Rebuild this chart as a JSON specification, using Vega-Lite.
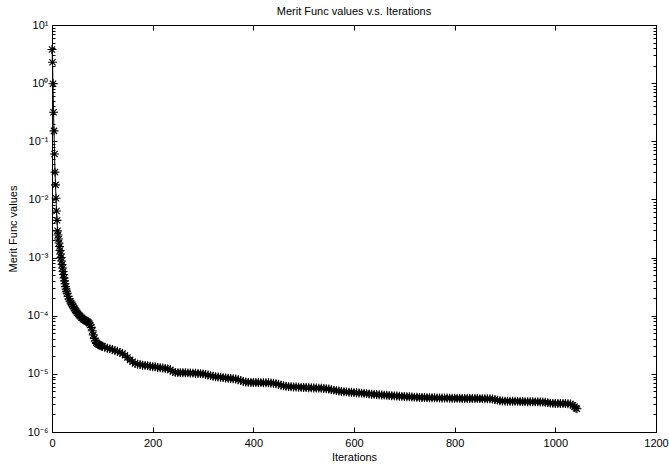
{
  "$schema": "https://vega.github.io/schema/vega-lite/v6.json",
  "width": 604,
  "height": 407,
  "autosize": {"type": "none"},
  "padding": {"left": 52, "top": 25, "right": 13, "bottom": 32},
  "background": "white",
  "title": {"text": "Merit Func values v.s. Iterations", "font": "Liberation Sans", "fontSize": 11, "fontWeight": "normal", "color": "black", "offset": 2},
  "data": {"values": [
    {"iteration": 0, "value": 3.8},
    {"iteration": 1, "value": 2.29},
    {"iteration": 2, "value": 0.977},
    {"iteration": 3, "value": 0.316},
    {"iteration": 4, "value": 0.151},
    {"iteration": 5, "value": 0.0603},
    {"iteration": 6, "value": 0.0295},
    {"iteration": 7, "value": 0.0178},
    {"iteration": 8, "value": 0.0105},
    {"iteration": 9, "value": 0.00631},
    {"iteration": 10, "value": 0.00437},
    {"iteration": 11, "value": 0.00288},
    {"iteration": 12, "value": 0.00245},
    {"iteration": 13, "value": 0.00209},
    {"iteration": 14, "value": 0.00178},
    {"iteration": 15, "value": 0.00155},
    {"iteration": 16, "value": 0.00132},
    {"iteration": 17, "value": 0.00115},
    {"iteration": 18, "value": 0.001},
    {"iteration": 19, "value": 8.71e-4},
    {"iteration": 20, "value": 7.59e-4},
    {"iteration": 21, "value": 6.61e-4},
    {"iteration": 22, "value": 5.75e-4},
    {"iteration": 23, "value": 5.13e-4},
    {"iteration": 24, "value": 4.47e-4},
    {"iteration": 25, "value": 3.98e-4},
    {"iteration": 26, "value": 3.55e-4},
    {"iteration": 27, "value": 3.16e-4},
    {"iteration": 28, "value": 2.88e-4},
    {"iteration": 29, "value": 2.63e-4},
    {"iteration": 30, "value": 2.45e-4},
    {"iteration": 32, "value": 2.14e-4},
    {"iteration": 34, "value": 1.95e-4},
    {"iteration": 36, "value": 1.78e-4},
    {"iteration": 38, "value": 1.66e-4},
    {"iteration": 40, "value": 1.55e-4},
    {"iteration": 42, "value": 1.45e-4},
    {"iteration": 44, "value": 1.35e-4},
    {"iteration": 46, "value": 1.26e-4},
    {"iteration": 48, "value": 1.2e-4},
    {"iteration": 50, "value": 1.12e-4},
    {"iteration": 52, "value": 1.07e-4},
    {"iteration": 54, "value": 1.02e-4},
    {"iteration": 56, "value": 9.77e-5},
    {"iteration": 58, "value": 9.33e-5},
    {"iteration": 60, "value": 9.12e-5},
    {"iteration": 62, "value": 8.71e-5},
    {"iteration": 64, "value": 8.51e-5},
    {"iteration": 66, "value": 8.32e-5},
    {"iteration": 68, "value": 8.13e-5},
    {"iteration": 70, "value": 7.94e-5},
    {"iteration": 72, "value": 7.76e-5},
    {"iteration": 74, "value": 7.41e-5},
    {"iteration": 76, "value": 6.92e-5},
    {"iteration": 78, "value": 6.31e-5},
    {"iteration": 80, "value": 5.5e-5},
    {"iteration": 82, "value": 4.68e-5},
    {"iteration": 84, "value": 4.07e-5},
    {"iteration": 86, "value": 3.72e-5},
    {"iteration": 88, "value": 3.47e-5},
    {"iteration": 90, "value": 3.31e-5},
    {"iteration": 92, "value": 3.24e-5},
    {"iteration": 94, "value": 3.16e-5},
    {"iteration": 96, "value": 3.09e-5},
    {"iteration": 98, "value": 3.02e-5},
    {"iteration": 100, "value": 2.95e-5},
    {"iteration": 105, "value": 2.88e-5},
    {"iteration": 110, "value": 2.75e-5},
    {"iteration": 115, "value": 2.69e-5},
    {"iteration": 120, "value": 2.63e-5},
    {"iteration": 125, "value": 2.51e-5},
    {"iteration": 130, "value": 2.45e-5},
    {"iteration": 135, "value": 2.34e-5},
    {"iteration": 140, "value": 2.24e-5},
    {"iteration": 145, "value": 2.09e-5},
    {"iteration": 150, "value": 1.91e-5},
    {"iteration": 155, "value": 1.74e-5},
    {"iteration": 160, "value": 1.62e-5},
    {"iteration": 165, "value": 1.51e-5},
    {"iteration": 170, "value": 1.46e-5},
    {"iteration": 175, "value": 1.45e-5},
    {"iteration": 180, "value": 1.41e-5},
    {"iteration": 185, "value": 1.4e-5},
    {"iteration": 190, "value": 1.38e-5},
    {"iteration": 195, "value": 1.35e-5},
    {"iteration": 200, "value": 1.33e-5},
    {"iteration": 205, "value": 1.32e-5},
    {"iteration": 210, "value": 1.29e-5},
    {"iteration": 215, "value": 1.27e-5},
    {"iteration": 220, "value": 1.26e-5},
    {"iteration": 225, "value": 1.24e-5},
    {"iteration": 230, "value": 1.23e-5},
    {"iteration": 235, "value": 1.17e-5},
    {"iteration": 240, "value": 1.1e-5},
    {"iteration": 245, "value": 1.06e-5},
    {"iteration": 250, "value": 1.05e-5},
    {"iteration": 255, "value": 1.05e-5},
    {"iteration": 260, "value": 1.045e-5},
    {"iteration": 265, "value": 1.042e-5},
    {"iteration": 270, "value": 1.04e-5},
    {"iteration": 275, "value": 1.035e-5},
    {"iteration": 280, "value": 1.03e-5},
    {"iteration": 285, "value": 1.023e-5},
    {"iteration": 290, "value": 1.016e-5},
    {"iteration": 295, "value": 1.01e-5},
    {"iteration": 300, "value": 1.0e-5},
    {"iteration": 305, "value": 9.77e-6},
    {"iteration": 310, "value": 9.55e-6},
    {"iteration": 315, "value": 9.33e-6},
    {"iteration": 320, "value": 9.12e-6},
    {"iteration": 325, "value": 8.91e-6},
    {"iteration": 330, "value": 8.81e-6},
    {"iteration": 335, "value": 8.71e-6},
    {"iteration": 340, "value": 8.61e-6},
    {"iteration": 345, "value": 8.51e-6},
    {"iteration": 350, "value": 8.41e-6},
    {"iteration": 355, "value": 8.32e-6},
    {"iteration": 360, "value": 8.22e-6},
    {"iteration": 365, "value": 8.13e-6},
    {"iteration": 370, "value": 7.94e-6},
    {"iteration": 375, "value": 7.67e-6},
    {"iteration": 380, "value": 7.41e-6},
    {"iteration": 385, "value": 7.24e-6},
    {"iteration": 390, "value": 7.14e-6},
    {"iteration": 395, "value": 7.11e-6},
    {"iteration": 400, "value": 7.1e-6},
    {"iteration": 405, "value": 7.08e-6},
    {"iteration": 410, "value": 7.08e-6},
    {"iteration": 415, "value": 7.06e-6},
    {"iteration": 420, "value": 7.05e-6},
    {"iteration": 425, "value": 7.03e-6},
    {"iteration": 430, "value": 7.01e-6},
    {"iteration": 435, "value": 6.98e-6},
    {"iteration": 440, "value": 6.92e-6},
    {"iteration": 445, "value": 6.76e-6},
    {"iteration": 450, "value": 6.61e-6},
    {"iteration": 455, "value": 6.38e-6},
    {"iteration": 460, "value": 6.24e-6},
    {"iteration": 465, "value": 6.1e-6},
    {"iteration": 470, "value": 6.03e-6},
    {"iteration": 475, "value": 5.98e-6},
    {"iteration": 480, "value": 5.94e-6},
    {"iteration": 485, "value": 5.92e-6},
    {"iteration": 490, "value": 5.89e-6},
    {"iteration": 495, "value": 5.86e-6},
    {"iteration": 500, "value": 5.83e-6},
    {"iteration": 505, "value": 5.81e-6},
    {"iteration": 510, "value": 5.78e-6},
    {"iteration": 515, "value": 5.75e-6},
    {"iteration": 520, "value": 5.73e-6},
    {"iteration": 525, "value": 5.7e-6},
    {"iteration": 530, "value": 5.68e-6},
    {"iteration": 535, "value": 5.65e-6},
    {"iteration": 540, "value": 5.62e-6},
    {"iteration": 545, "value": 5.56e-6},
    {"iteration": 550, "value": 5.47e-6},
    {"iteration": 555, "value": 5.35e-6},
    {"iteration": 560, "value": 5.25e-6},
    {"iteration": 565, "value": 5.15e-6},
    {"iteration": 570, "value": 5.07e-6},
    {"iteration": 575, "value": 4.99e-6},
    {"iteration": 580, "value": 4.93e-6},
    {"iteration": 585, "value": 4.9e-6},
    {"iteration": 590, "value": 4.84e-6},
    {"iteration": 595, "value": 4.81e-6},
    {"iteration": 600, "value": 4.76e-6},
    {"iteration": 605, "value": 4.73e-6},
    {"iteration": 610, "value": 4.7e-6},
    {"iteration": 615, "value": 4.66e-6},
    {"iteration": 620, "value": 4.62e-6},
    {"iteration": 625, "value": 4.57e-6},
    {"iteration": 630, "value": 4.52e-6},
    {"iteration": 635, "value": 4.47e-6},
    {"iteration": 640, "value": 4.44e-6},
    {"iteration": 645, "value": 4.41e-6},
    {"iteration": 650, "value": 4.37e-6},
    {"iteration": 655, "value": 4.34e-6},
    {"iteration": 660, "value": 4.31e-6},
    {"iteration": 665, "value": 4.27e-6},
    {"iteration": 670, "value": 4.24e-6},
    {"iteration": 675, "value": 4.21e-6},
    {"iteration": 680, "value": 4.18e-6},
    {"iteration": 685, "value": 4.16e-6},
    {"iteration": 690, "value": 4.13e-6},
    {"iteration": 695, "value": 4.1e-6},
    {"iteration": 700, "value": 4.07e-6},
    {"iteration": 705, "value": 4.05e-6},
    {"iteration": 710, "value": 4.03e-6},
    {"iteration": 715, "value": 4.0e-6},
    {"iteration": 720, "value": 3.98e-6},
    {"iteration": 725, "value": 3.96e-6},
    {"iteration": 730, "value": 3.94e-6},
    {"iteration": 735, "value": 3.93e-6},
    {"iteration": 740, "value": 3.92e-6},
    {"iteration": 745, "value": 3.9e-6},
    {"iteration": 750, "value": 3.89e-6},
    {"iteration": 755, "value": 3.88e-6},
    {"iteration": 760, "value": 3.87e-6},
    {"iteration": 765, "value": 3.86e-6},
    {"iteration": 770, "value": 3.85e-6},
    {"iteration": 775, "value": 3.846e-6},
    {"iteration": 780, "value": 3.84e-6},
    {"iteration": 785, "value": 3.83e-6},
    {"iteration": 790, "value": 3.82e-6},
    {"iteration": 795, "value": 3.81e-6},
    {"iteration": 800, "value": 3.8e-6},
    {"iteration": 805, "value": 3.79e-6},
    {"iteration": 810, "value": 3.79e-6},
    {"iteration": 815, "value": 3.78e-6},
    {"iteration": 820, "value": 3.78e-6},
    {"iteration": 825, "value": 3.77e-6},
    {"iteration": 830, "value": 3.77e-6},
    {"iteration": 835, "value": 3.76e-6},
    {"iteration": 840, "value": 3.76e-6},
    {"iteration": 845, "value": 3.758e-6},
    {"iteration": 850, "value": 3.75e-6},
    {"iteration": 855, "value": 3.748e-6},
    {"iteration": 860, "value": 3.74e-6},
    {"iteration": 865, "value": 3.73e-6},
    {"iteration": 870, "value": 3.72e-6},
    {"iteration": 875, "value": 3.7e-6},
    {"iteration": 880, "value": 3.63e-6},
    {"iteration": 885, "value": 3.53e-6},
    {"iteration": 890, "value": 3.45e-6},
    {"iteration": 895, "value": 3.41e-6},
    {"iteration": 900, "value": 3.4e-6},
    {"iteration": 905, "value": 3.39e-6},
    {"iteration": 910, "value": 3.38e-6},
    {"iteration": 915, "value": 3.37e-6},
    {"iteration": 920, "value": 3.368e-6},
    {"iteration": 925, "value": 3.36e-6},
    {"iteration": 930, "value": 3.35e-6},
    {"iteration": 935, "value": 3.34e-6},
    {"iteration": 940, "value": 3.33e-6},
    {"iteration": 945, "value": 3.326e-6},
    {"iteration": 950, "value": 3.32e-6},
    {"iteration": 955, "value": 3.31e-6},
    {"iteration": 960, "value": 3.3e-6},
    {"iteration": 965, "value": 3.296e-6},
    {"iteration": 970, "value": 3.29e-6},
    {"iteration": 975, "value": 3.28e-6},
    {"iteration": 980, "value": 3.26e-6},
    {"iteration": 985, "value": 3.2e-6},
    {"iteration": 990, "value": 3.14e-6},
    {"iteration": 995, "value": 3.11e-6},
    {"iteration": 1000, "value": 3.1e-6},
    {"iteration": 1005, "value": 3.098e-6},
    {"iteration": 1010, "value": 3.09e-6},
    {"iteration": 1015, "value": 3.088e-6},
    {"iteration": 1020, "value": 3.08e-6},
    {"iteration": 1025, "value": 3.06e-6},
    {"iteration": 1030, "value": 3.02e-6},
    {"iteration": 1035, "value": 2.88e-6},
    {"iteration": 1038, "value": 2.72e-6},
    {"iteration": 1041, "value": 2.57e-6},
    {"iteration": 1043, "value": 2.51e-6}
  ]},
  "layer": [
    {
      "mark": {"type": "line", "color": "black", "strokeWidth": 1},
      "encoding": {
        "x": {"field": "iteration", "type": "quantitative",
              "scale": {"domain": [0, 1200], "nice": false, "zero": false},
              "axis": {"orient": "bottom", "title": "Iterations", "values": [0, 200, 400, 600, 800, 1000, 1200], "format": "d",
                       "domain": true, "ticks": true, "tickSize": -5, "labelPadding": 10, "titlePadding": 3, "labelFlush": false, "labelOverlap": false}},
        "y": {"field": "value", "type": "quantitative",
              "scale": {"type": "log", "domain": [1e-6, 10], "nice": false},
              "axis": {"orient": "left", "title": "Merit Func values", "domain": true, "ticks": true,
                       "values": [1e-6,2e-6,3e-6,4e-6,5e-6,6e-6,7e-6,8e-6,9e-6,1e-5,2e-5,3e-5,4e-5,5e-5,6e-5,7e-5,8e-5,9e-5,1e-4,2e-4,3e-4,4e-4,5e-4,6e-4,7e-4,8e-4,9e-4,0.001,0.002,0.003,0.004,0.005,0.006,0.007,0.008,0.009,0.01,0.02,0.03,0.04,0.05,0.06,0.07,0.08,0.09,0.1,0.2,0.3,0.4,0.5,0.6,0.7,0.8,0.9,1,2,3,4,5,6,7,8,9,10],
                       "labelExpr": "datum.value == 10 ? '10¹' : datum.value == 1 ? '10⁰' : datum.value == 0.1 ? '10⁻¹' : datum.value == 0.01 ? '10⁻²' : datum.value == 0.001 ? '10⁻³' : datum.value == 0.0001 ? '10⁻⁴' : datum.value == 0.00001 ? '10⁻⁵' : datum.value == 0.000001 ? '10⁻⁶' : ''",
                       "tickSize": {"condition": {"test": "abs(log(datum.value)/LN10 - round(log(datum.value)/LN10)) < 0.001", "value": -5}, "value": -3},
                       "labelPadding": 9, "titlePadding": 9, "labelOverlap": false, "labelFlush": false}}
      }
    },
    {
      "mark": {"type": "point", "shape": "M-1,0L1,0M0,-1L0,1M-0.7,-0.7L0.7,0.7M-0.7,0.7L0.7,-0.7", "filled": false, "stroke": "black", "strokeWidth": 1.1, "size": 80, "opacity": 1},
      "encoding": {
        "x": {"field": "iteration", "type": "quantitative",
              "axis": {"orient": "top", "title": null, "labels": false, "domain": true, "ticks": true, "values": [0, 200, 400, 600, 800, 1000, 1200], "tickSize": -5}},
        "y": {"field": "value", "type": "quantitative",
              "axis": {"orient": "right", "title": null, "labels": false, "domain": true, "ticks": true,
                       "values": [1e-6,2e-6,3e-6,4e-6,5e-6,6e-6,7e-6,8e-6,9e-6,1e-5,2e-5,3e-5,4e-5,5e-5,6e-5,7e-5,8e-5,9e-5,1e-4,2e-4,3e-4,4e-4,5e-4,6e-4,7e-4,8e-4,9e-4,0.001,0.002,0.003,0.004,0.005,0.006,0.007,0.008,0.009,0.01,0.02,0.03,0.04,0.05,0.06,0.07,0.08,0.09,0.1,0.2,0.3,0.4,0.5,0.6,0.7,0.8,0.9,1,2,3,4,5,6,7,8,9,10],
                       "tickSize": {"condition": {"test": "abs(log(datum.value)/LN10 - round(log(datum.value)/LN10)) < 0.001", "value": -5}, "value": -3}}}
      }
    }
  ],
  "resolve": {"axis": {"x": "independent", "y": "independent"}},
  "config": {
    "view": {"stroke": null},
    "axis": {"grid": false, "domain": true, "ticks": true, "domainColor": "black", "domainWidth": 1, "tickColor": "black", "tickWidth": 1,
             "labelColor": "black", "titleColor": "black", "labelFont": "Liberation Sans", "titleFont": "Liberation Sans",
             "labelFontSize": 11, "titleFontSize": 11, "titleFontWeight": "normal"}
  }
}
